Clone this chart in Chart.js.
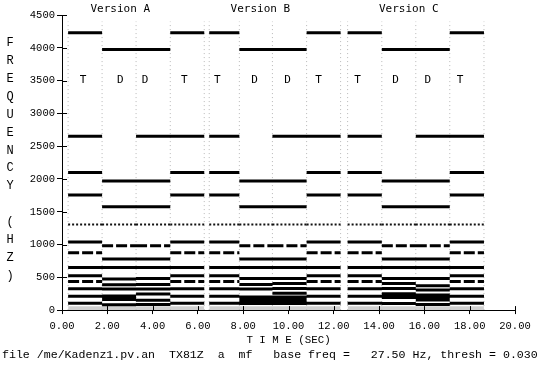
<!DOCTYPE html>
<html><head><meta charset="utf-8">
<script src="https://cdn.jsdelivr.net/npm/chart.js@4/dist/chart.umd.min.js"></script>
<style>html,body{margin:0;padding:0;background:#fff}#wrap{width:540px;height:365px}</style>
</head><body><div id="wrap"><canvas id="c" width="540" height="365"></canvas></div>
<script>
// ---- data ----
const versionNames   = ['Version A', 'Version B', 'Version C'];
const versionCenters = [2.57, 8.76, 15.31];            // seconds
const segLabels      = ['T','D','D','T','T','D','D','T','T','D','D','T'];
const segLabelTimes  = [0.93, 2.57, 3.67, 5.40, 6.86, 8.50, 9.96, 11.33, 13.05, 14.73, 16.15, 17.57];
const segStart       = [0.27, 1.77, 3.27, 4.78, 6.50, 7.83, 9.29, 10.80, 12.61, 14.12, 15.62, 17.12];
const segEnd         = [1.77, 3.27, 4.78, 6.28, 7.83, 9.29, 10.80, 12.30, 14.12, 15.62, 17.12, 18.63];
const freqT   = [4230, 2650, 2100, 1755, 1305, 1040, 875, 650, 525, 435, 325, 210, 105];
const freqAD1 = [3975, 1970, 1575, 1305, 980, 780, 650, 475, 385, 320, 215, 190, 160, 80];
const freqAD2 = [3975, 2650, 1970, 1575, 1305, 980, 780, 650, 480, 390, 320, 245, 150, 85];
const freqBD1 = [3975, 1970, 1575, 1305, 980, 780, 650, 480, 390, 320, 200, 175, 150, 125, 100];
const freqBD2 = [3975, 2650, 1970, 1575, 1305, 980, 780, 650, 480, 405, 330, 255, 200, 175, 150, 125, 100];
const freqCD1 = [3975, 1970, 1575, 1305, 980, 780, 650, 480, 405, 330, 250, 220, 190, 100];
const freqCD2 = [3975, 2650, 1970, 1575, 1305, 980, 780, 650, 480, 370, 305, 230, 200, 155, 85];
const segFreqs = [freqT, freqAD1, freqAD2, freqT, freqT, freqBD1, freqBD2, freqT, freqT, freqCD1, freqCD2, freqT];
const noiseBandTop  = 60;     // Hz, grey noise floor
const transientTop  = 4400;   // Hz, grey dotted transients at note changes
const xTickValues = [0, 2, 4, 6, 8, 10, 12, 14, 16, 18, 20];
const yTickValues = [0, 500, 1000, 1500, 2000, 2500, 3000, 3500, 4000, 4500];
const yTitleChars = ['F','R','E','Q','U','E','N','C','Y','','(','H','Z',')'];
const xTitle   = 'T I M E (SEC)';
const fileLine = 'file /me/Kadenz1.pv.an  TX81Z  a  mf   base freq =   27.50 Hz, thresh = 0.030';

// ---- styling (kept apart from the data) ----
const dottedSet = new Set([1305]);
const dashedSet = new Set([875, 435, 980]);
function styleOf(f){ return dottedSet.has(f) ? 'dotted' : (dashedSet.has(f) ? 'dashed' : 'solid'); }

const groups = {solid: [], dashed: [], dotted: []};
segFreqs.forEach((list, i) => {
  list.forEach(f => {
    const g = groups[styleOf(f)];
    g.push({x: segStart[i], y: f}, {x: segEnd[i], y: f}, {x: segEnd[i], y: null});
  });
});

// transients (segment boundaries)
const bounds = [];
segStart.forEach((s, i) => {
  if (!bounds.includes(s)) bounds.push(s);
  if (!bounds.includes(segEnd[i])) bounds.push(segEnd[i]);
});
const transientPts = [];
bounds.forEach(b => transientPts.push({x: b, y: 0}, {x: b, y: transientTop}, {x: b, y: null}));

// noise floor spans (contiguous runs of segments)
const bandPts = [];
segStart.forEach((s, i) => {
  bandPts.push({x: s, y: noiseBandTop}, {x: segEnd[i], y: noiseBandTop});
  const next = segStart[i + 1];
  if (next === undefined || next > segEnd[i] + 0.01) bandPts.push({x: segEnd[i], y: null});
});

const base = {pointRadius: 0, pointHoverRadius: 0, spanGaps: false, tension: 0, borderCapStyle: 'butt', fill: false};
const datasets = [
  Object.assign({}, base, {data: groups.solid,  borderColor: '#000', borderWidth: 3}),
  Object.assign({}, base, {data: groups.dashed, borderColor: '#000', borderWidth: 3, borderDash: [11, 3]}),
  Object.assign({}, base, {data: groups.dotted, borderColor: '#111', borderWidth: 2, borderDash: [2, 2]}),
  Object.assign({}, base, {data: transientPts, borderColor: '#b8b8b8', borderWidth: 1, borderDash: [1, 3]}),
  Object.assign({}, base, {data: bandPts, borderColor: 'rgba(0,0,0,0)', borderWidth: 0, fill: 'origin', backgroundColor: 'rgba(120,120,120,0.35)'})
];

const annot = {
  id: 'annot',
  afterDraw(chart) {
    const {ctx, scales: {x, y}, chartArea} = chart;
    ctx.save();
    ctx.strokeStyle = '#000'; ctx.lineWidth = 1;
    // inward halves of the tick marks
    xTickValues.forEach(v => { const px = Math.round(x.getPixelForValue(v)) + 0.5; ctx.beginPath(); ctx.moveTo(px, chartArea.bottom); ctx.lineTo(px, chartArea.bottom - 4); ctx.stroke(); });
    yTickValues.forEach(v => { const py = Math.round(y.getPixelForValue(v)) + 0.5; ctx.beginPath(); ctx.moveTo(chartArea.left, py); ctx.lineTo(chartArea.left + 5, py); ctx.stroke(); });
    ctx.fillStyle = '#000';
    ctx.textAlign = 'center'; ctx.textBaseline = 'middle';
    ctx.font = '11px "DejaVu Sans Mono"';
    versionNames.forEach((n, i) => ctx.fillText(n, x.getPixelForValue(versionCenters[i]), y.getPixelForValue(4500) - 6));
    segLabels.forEach((l, i) => ctx.fillText(l, x.getPixelForValue(segLabelTimes[i]), y.getPixelForValue(3500)));
    ctx.font = '12px "Liberation Mono"';
    yTitleChars.forEach((c, i) => { if (c) ctx.fillText(c, 10, 43 + i * 17.9); });
    ctx.restore();
  }
};

const tickFont = {family: 'Liberation Mono', size: 10.5};
new Chart(document.getElementById('c'), {
  type: 'line',
  data: {datasets},
  options: {
    responsive: false, animation: false, events: [],
    layout: {padding: {left: 2, right: 0, top: 15, bottom: 0}},
    plugins: {
      legend: {display: false}, tooltip: {enabled: false},
      subtitle: {display: true, position: 'bottom', align: 'start', text: fileLine, color: '#000',
        font: {family: 'Liberation Mono', size: 11.6, weight: 'normal', lineHeight: 1.2}, padding: {top: 0, bottom: 3}}
    },
    scales: {
      x: {
        type: 'linear', min: 0, max: 20,
        afterBuildTicks: s => { s.ticks = xTickValues.map(v => ({value: v})); },
        afterFit: s => { s.height = 38; s.paddingRight = 25; },
        ticks: {callback: v => Number(v).toFixed(2), color: '#000', font: tickFont, padding: 6, maxRotation: 0, autoSkip: false},
        grid: {drawOnChartArea: false, color: '#000', tickLength: 4},
        border: {color: '#000', width: 1},
        title: {display: true, text: xTitle, color: '#000', font: {family: 'Liberation Mono', size: 10.8, lineHeight: 1.2}, padding: {top: 0, bottom: 1.5}}
      },
      y: {
        type: 'linear', min: 0, max: 4500,
        afterBuildTicks: s => { s.ticks = yTickValues.map(v => ({value: v})); },
        afterFit: s => { s.width = 60; },
        ticks: {callback: v => String(v), color: '#000', font: tickFont, padding: 2, autoSkip: false},
        grid: {drawOnChartArea: false, color: '#000', tickLength: 5},
        border: {color: '#000', width: 1}
      }
    }
  },
  plugins: [annot]
});
</script></body></html>
